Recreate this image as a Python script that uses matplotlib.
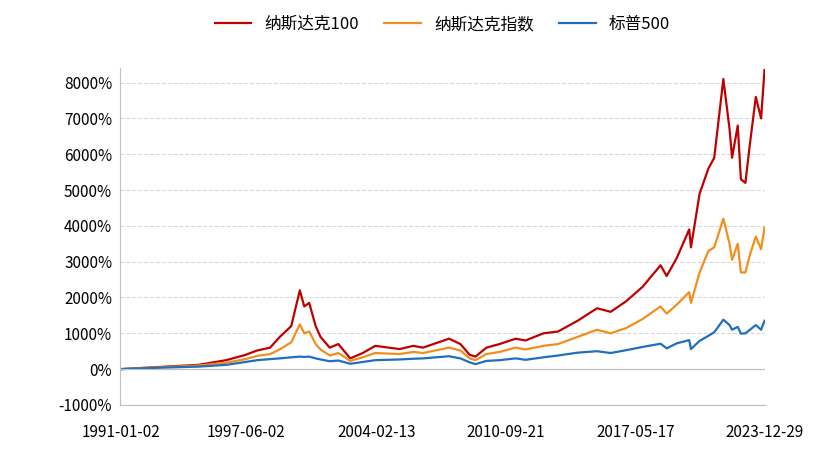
import matplotlib
matplotlib.use("Agg")
import matplotlib.pyplot as plt
import pandas as pd

plt.rcParams["font.family"] = ["Noto Sans CJK SC", "DejaVu Sans"]

# 日期节点（近似读图）
dates = ["1991-01-02", "1993-01-01", "1995-01-01", "1996-06-01", "1997-06-01", "1998-01-01",
         "1998-09-01", "1999-03-01", "1999-10-01", "2000-03-10", "2000-06-01", "2000-09-01",
         "2001-01-01", "2001-04-01", "2001-09-20", "2002-03-01", "2002-10-09", "2003-06-01",
         "2004-01-20", "2005-04-20", "2006-01-01", "2006-07-01", "2007-10-31", "2008-06-01",
         "2008-11-20", "2009-03-09", "2009-10-01", "2010-06-01", "2011-04-01", "2011-10-01",
         "2012-09-01", "2013-06-01", "2014-06-01", "2015-06-01", "2016-02-10", "2016-12-01",
         "2017-10-01", "2018-09-01", "2018-12-24", "2019-07-01", "2020-02-19", "2020-03-23",
         "2020-09-01", "2021-02-12", "2021-06-01", "2021-11-19", "2022-03-15", "2022-05-01",
         "2022-08-15", "2022-10-13", "2023-01-05", "2023-04-01", "2023-07-19", "2023-10-26",
         "2023-12-29"]

ndx100 = [0, 60, 120, 250, 400, 520, 600, 900, 1200, 2200, 1750, 1850,
          1200, 900, 600, 700, 300, 450, 650, 560, 650, 600, 850, 700,
          400, 350, 600, 700, 850, 800, 1000, 1050, 1350, 1700, 1600, 1900,
          2300, 2900, 2600, 3100, 3900, 3400, 4900, 5600, 5900, 8100, 6700, 5900,
          6800, 5300, 5200, 6300, 7600, 7000, 8350]

nasdaq = [0, 50, 100, 180, 280, 370, 420, 550, 750, 1250, 1000, 1050,
          700, 550, 380, 450, 230, 330, 450, 420, 480, 450, 600, 520,
          300, 250, 420, 480, 600, 550, 650, 700, 900, 1100, 1000, 1150,
          1400, 1750, 1550, 1800, 2150, 1850, 2700, 3300, 3400, 4200, 3500, 3050,
          3500, 2700, 2700, 3200, 3700, 3350, 3950]

sp500 = [0, 40, 70, 120, 200, 250, 280, 300, 330, 350, 340, 350,
         300, 270, 220, 240, 150, 200, 250, 270, 290, 300, 360, 300,
         190, 140, 230, 250, 300, 260, 330, 380, 460, 500, 450, 530,
         620, 710, 580, 720, 810, 560, 790, 930, 1030, 1380, 1230, 1100,
         1180, 990, 1000, 1100, 1230, 1100, 1350]

tick_labels = ["1991-01-02", "1997-06-02", "2004-02-13", "2010-09-21", "2017-05-17", "2023-12-29"]

x = pd.to_datetime(dates)

fig, ax = plt.subplots(figsize=(8.31, 4.55), dpi=100)
fig.subplots_adjust(left=0.145, right=0.92, top=0.85, bottom=0.11)

ax.plot(x, ndx100, color="#C00000", lw=1.6, label="纳斯达克100")
ax.plot(x, nasdaq, color="#F28E1C", lw=1.6, label="纳斯达克指数")
ax.plot(x, sp500, color="#1F6FBF", lw=1.6, label="标普500")

ax.set_ylim(-1000, 8400)
ax.set_yticks(range(-1000, 8001, 1000))
ax.set_yticklabels([f"{v}%" for v in range(-1000, 8001, 1000)], fontsize=11)
ax.set_xlim(pd.Timestamp("1991-01-02"), pd.Timestamp("2023-12-29"))
ax.set_xticks(pd.to_datetime(tick_labels))
ax.set_xticklabels(tick_labels, fontsize=11)
ax.yaxis.grid(True, color="#D9D9D9", ls="--", lw=0.8)
ax.axhline(0, color="#BFBFBF", lw=0.8)
for s in ["top", "right"]:
    ax.spines[s].set_visible(False)
ax.spines["left"].set_color("#BFBFBF")
ax.spines["bottom"].set_color("#BFBFBF")
ax.tick_params(length=0)
ax.tick_params(axis="x", pad=14)
ax.tick_params(axis="y", pad=6)

ax.legend(loc="upper center", bbox_to_anchor=(0.5, 1.2), ncol=3, frameon=False,
          fontsize=12, handlelength=2.2, columnspacing=1.5)

fig.savefig("out.png")
